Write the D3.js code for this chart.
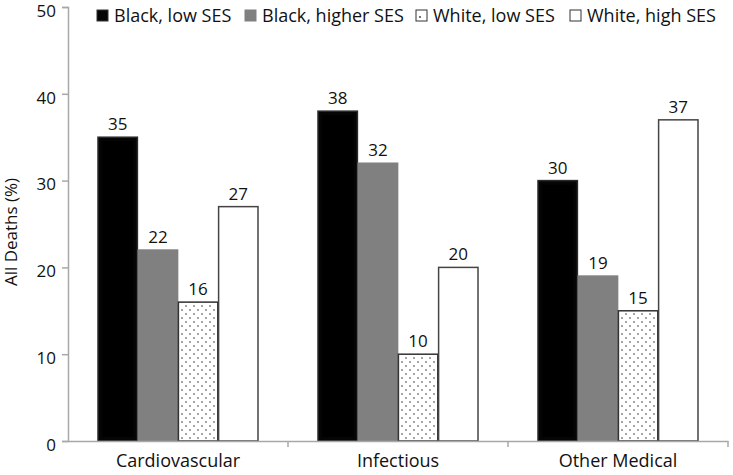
<!DOCTYPE html>
<html><head><meta charset="utf-8">
<script src="https://cdn.jsdelivr.net/npm/d3@7"></script>
<style>body{margin:0;background:#fff}svg{display:block}text{font-family:"Open Sans",Lato,sans-serif;fill:#111}</style>
</head><body><svg id="c" width="733" height="475"></svg>
<script>
const categories = ["Cardiovascular", "Infectious", "Other Medical"];
const seriesNames = ["Black, low SES", "Black, higher SES", "White, low SES", "White, high SES"];
const blackLow = [35, 38, 30];
const blackHigher = [22, 32, 19];
const whiteLow = [16, 10, 15];
const whiteHigh = [27, 20, 37];
const yTicks = [0, 10, 20, 30, 40, 50];
const yTitle = "All Deaths (%)";

(function(){
const series = [blackLow, blackHigher, whiteLow, whiteHigh];
const fills = ["#050505", "#808080", "url(#dots)", "#ffffff"];
const strokes = ["#2a2a2a", "#808080", "#333", "#444"];
const legendX = [97, 245, 416, 570];

const svg = d3.select("#c");
const defs = svg.append("defs");
const pat = defs.append("pattern").attr("id","dots").attr("patternUnits","userSpaceOnUse")
  .attr("width",8).attr("height",8);
pat.append("rect").attr("width",8).attr("height",8).attr("fill","#fff");
pat.append("circle").attr("cx",2).attr("cy",2).attr("r",0.8).attr("fill","#333");
pat.append("circle").attr("cx",6).attr("cy",6).attr("r",0.8).attr("fill","#333");

const mLeft = 68, mRight = 728, mTop = 7, mBottom = 441;
const x = d3.scaleBand().domain(categories).range([mLeft, mRight]);
const y = d3.scaleLinear().domain([0, 50]).range([mBottom, mTop]);
const inner = d3.scaleBand().domain(d3.range(4)).range([0, 160]).paddingInner(0.02);

// y axis
const ya = svg.append("g").attr("transform",`translate(${mLeft},0)`)
  .call(d3.axisLeft(y).tickValues(yTicks).tickSize(6).tickPadding(6));
ya.select(".domain").attr("stroke","#a8a8a8").attr("stroke-width",1.5);
ya.selectAll(".tick line").attr("stroke","#a8a8a8").attr("stroke-width",1.5);
ya.selectAll(".tick text").style("font-size","17px").attr("fill","#111").attr("dy","0.55em");

svg.append("text").attr("transform",`translate(17,${(mTop+mBottom)/2 + 8}) rotate(-90)`)
  .attr("text-anchor","middle").style("font-size","17px").text(yTitle);

// bars
categories.forEach((c, ci) => {
  const x0 = x(c) + x.bandwidth()/2 - 80;
  series.forEach((s, si) => {
    svg.append("rect")
      .attr("x", x0 + inner(si)).attr("width", inner.bandwidth())
      .attr("y", y(s[ci])).attr("height", y(0) - y(s[ci]))
      .attr("fill", fills[si]).attr("stroke", strokes[si]).attr("stroke-width", 1.5);
    if (si === 0) {
      svg.append("rect")
        .attr("x", x0 + inner(si) + 4).attr("width", inner.bandwidth() - 8)
        .attr("y", y(s[ci]) + 4).attr("height", y(0) - y(s[ci]) - 8)
        .attr("fill", "#000");
    }
    svg.append("text")
      .attr("x", x0 + inner(si) + inner.bandwidth()/2)
      .attr("y", y(s[ci]) - 7)
      .attr("text-anchor","middle").style("font-size","17px").text(s[ci]);
  });
});

// x axis
const xa = svg.append("g").attr("transform",`translate(0,${mBottom})`)
  .call(d3.axisBottom(x).tickSize(0).tickPadding(13));
xa.select(".domain").attr("stroke","#a8a8a8").attr("stroke-width",1.5);
xa.selectAll(".tick text").style("font-size","18px").attr("fill","#111");
const bounds = categories.map(c => x(c) + x.bandwidth());
xa.selectAll("line.sep").data(bounds).enter().append("line")
  .attr("x1", d => d).attr("x2", d => d).attr("y1", 0).attr("y2", 6)
  .attr("stroke","#a8a8a8").attr("stroke-width",1.5);

// legend
seriesNames.forEach((n, i) => {
  const g = svg.append("g").attr("transform",`translate(${legendX[i]},16)`);
  g.append("rect").attr("x",0).attr("y",-6).attr("width",11).attr("height",11)
    .attr("fill", i===2 ? "#fff" : fills[i]).attr("stroke", i===1 ? "#808080" : "#333").attr("stroke-width",1);
  if (i===2) g.append("circle").attr("cx",4).attr("cy",1).attr("r",0.9).attr("fill","#333");
  g.append("text").attr("x",17).attr("y",0).attr("dy","0.35em")
    .style("font-size","18px").text(n);
});
})();
</script></body></html>
